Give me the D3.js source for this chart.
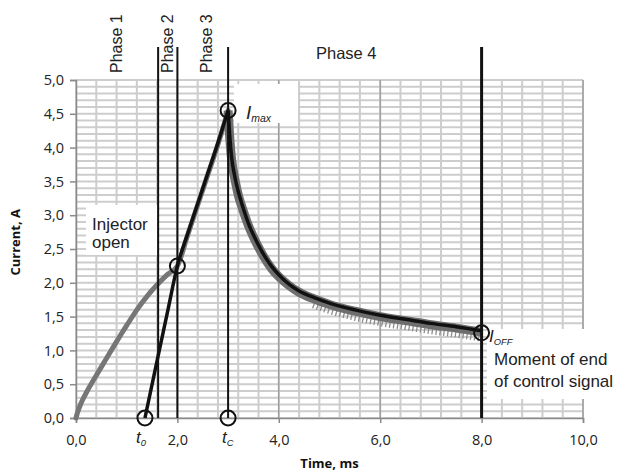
<!DOCTYPE html>
<html><head><meta charset="utf-8">
<script src="https://cdn.jsdelivr.net/npm/d3@7"></script>
<style>body{margin:0;background:#fff}svg{display:block}</style>
</head><body>
<svg id="c" width="623" height="473"></svg>
<script>
// ---- data ----
const xTicks = [0, 2, 4, 6, 8, 10];
const xTickLabels = ["0,0", "2,0", "4,0", "6,0", "8,0", "10,0"];
const yTicks = [0, 0.5, 1, 1.5, 2, 2.5, 3, 3.5, 4, 4.5, 5];
const yTickLabels = ["0,0", "0,5", "1,0", "1,5", "2,0", "2,5", "3,0", "3,5", "4,0", "4,5", "5,0"];
// measured current (gray)
const measuredRiseT = [0, 0.03, 0.1, 0.2, 0.4, 0.6, 0.8, 1.0, 1.2, 1.4, 1.6, 1.8, 2.0, 2.2, 2.4, 2.6, 2.8, 2.95, 3.0];
const measuredRiseI = [0, 0.08, 0.22, 0.37, 0.63, 0.88, 1.13, 1.37, 1.6, 1.8, 1.97, 2.12, 2.25, 2.7, 3.15, 3.6, 4.05, 4.42, 4.55];
const decayT = [3.0, 3.03, 3.07, 3.13, 3.2, 3.3, 3.4, 3.55, 3.7, 3.85, 4.0, 4.2, 4.4, 4.7, 5.0, 5.5, 6.0, 6.5, 7.0, 7.5, 8.0];
const measuredDecayI = [4.55, 4.18, 3.82, 3.55, 3.3, 3.06, 2.85, 2.6, 2.39, 2.22, 2.09, 1.96, 1.86, 1.76, 1.68, 1.58, 1.5, 1.44, 1.38, 1.33, 1.27];
// model current (black)
const modelRiseT = [1.36, 1.6, 1.8, 2.0, 2.2, 2.4, 2.6, 2.8, 3.0];
const modelRiseI = [0, 0.85, 1.55, 2.25, 2.72, 3.17, 3.62, 4.07, 4.55];
const modelDecayI = [4.55, 4.2, 3.85, 3.58, 3.35, 3.1, 2.88, 2.63, 2.42, 2.25, 2.12, 1.98, 1.88, 1.78, 1.70, 1.60, 1.52, 1.46, 1.40, 1.35, 1.29];
// phase boundaries (ms)
const phaseLines = [1.62, 2.0, 3.0, 8.0];
const phaseLabels = ["Phase 1", "Phase 2", "Phase 3"];
const phaseLabelT = [0.91, 1.91, 2.68];
// characteristic points
const markT = [1.36, 2.0, 3.0, 3.0, 8.0];
const markI = [0, 2.25, 4.55, 0, 1.26];

// ---- layout ----
const svg = d3.select("#c");
const x = d3.scaleLinear().domain([0, 10]).range([76, 583]);
const y = d3.scaleLinear().domain([0, 5]).range([418, 80]);
const tickFont = "'Open Sans', sans-serif";
const labFont = "'Liberation Sans', Arial, sans-serif";

// grid
const g = svg.append("g");
g.selectAll(".hg").data(d3.range(0, 51).map(i => i / 10)).join("line")
  .attr("x1", x(0)).attr("x2", x(10)).attr("y1", d => y(d)).attr("y2", d => y(d))
  .attr("stroke", "#cdcdcd").attr("stroke-width", 2);
g.selectAll(".vg").data(d3.range(0, 26).map(i => i * 0.4)).join("line")
  .attr("x1", d => x(d)).attr("x2", d => x(d)).attr("y1", y(0)).attr("y2", y(5))
  .attr("stroke", "#cdcdcd").attr("stroke-width", 2);
g.selectAll(".vm").data(xTicks.slice(1)).join("line")
  .attr("x1", d => x(d)).attr("x2", d => x(d)).attr("y1", y(0)).attr("y2", y(5))
  .attr("stroke", "#8a8a8a").attr("stroke-width", 1);

// axes
const xa = svg.append("g").attr("transform", `translate(0,${y(0)})`)
  .call(d3.axisBottom(x).tickValues(xTicks).tickFormat((d, i) => xTickLabels[i]).tickSize(5).tickPadding(12));
const ya = svg.append("g").attr("transform", `translate(${x(0)},0)`)
  .call(d3.axisLeft(y).tickValues(yTicks).tickFormat((d, i) => yTickLabels[i]).tickSize(6).tickPadding(6));
[xa, ya].forEach(a => {
  a.select(".domain").attr("stroke", "#8a8a8a").attr("stroke-width", 1.5);
  a.selectAll(".tick line").attr("stroke", "#8a8a8a").attr("stroke-width", 1.5);
  a.selectAll("text").attr("font-family", tickFont).attr("font-size", 14.5).attr("fill", "#222");
});

// white label boxes
const boxes = [[86, 205, 71, 50], [234, 84, 64, 39], [487, 329, 136, 70]];
svg.selectAll(".box").data(boxes).join("rect")
  .attr("x", d => d[0]).attr("y", d => d[1]).attr("width", d => d[2]).attr("height", d => d[3])
  .attr("fill", "#fff");

// curves
const line = d3.line().x(d => x(d[0])).y(d => y(d[1])).curve(d3.curveMonotoneX);
const mRise = measuredRiseT.map((t, i) => [t, measuredRiseI[i]]);
const mDecay = decayT.map((t, i) => [t, measuredDecayI[i]]);
const kRise = modelRiseT.map((t, i) => [t, modelRiseI[i]]);
const kDecay = decayT.map((t, i) => [t, modelDecayI[i]]);

svg.append("path").attr("d", line(mRise)).attr("fill", "none")
  .attr("stroke", "#767676").attr("stroke-width", 5).attr("stroke-linecap", "round");
// noisy band of measured decay
svg.append("path").attr("d", line(mDecay.filter(d => d[0] >= 4.6))).attr("fill", "none")
  .attr("transform", "translate(0,3)")
  .attr("stroke", "#8c8c8c").attr("stroke-width", 13).attr("stroke-dasharray", "1.3 2.6");
svg.append("path").attr("d", line(mDecay)).attr("fill", "none")
  .attr("stroke", "#6e6e6e").attr("stroke-width", 9).attr("stroke-linejoin", "round");
svg.append("path").attr("d", line(kRise)).attr("fill", "none")
  .attr("stroke", "#111").attr("stroke-width", 3.5).attr("stroke-linejoin", "round");
svg.append("path").attr("d", line(kDecay)).attr("fill", "none")
  .attr("stroke", "#111").attr("stroke-width", 3.5).attr("stroke-linejoin", "round");

// phase boundary lines
svg.selectAll(".pl").data(phaseLines).join("line")
  .attr("x1", d => x(d)).attr("x2", d => x(d)).attr("y1", 47).attr("y2", y(0))
  .attr("stroke", "#111").attr("stroke-width", (d, i) => i === 3 ? 3 : 2);

// markers
svg.selectAll(".mk").data(markT.map((t, i) => [t, markI[i]])).join("circle")
  .attr("cx", d => x(d[0])).attr("cy", d => y(d[1])).attr("r", 7.5)
  .attr("fill", "none").attr("stroke", "#111").attr("stroke-width", 2);

// phase labels
svg.selectAll(".ph").data(phaseLabels).join("text")
  .attr("transform", (d, i) => `translate(${x(phaseLabelT[i])},73) rotate(-90)`)
  .attr("font-family", labFont).attr("font-size", 16).attr("fill", "#222").text(d => d);
svg.append("text").attr("x", 316).attr("y", 59).attr("font-family", labFont)
  .attr("font-size", 16.5).attr("fill", "#222").text("Phase 4");

// annotations
const ann = svg.append("g").attr("font-family", labFont).attr("fill", "#222");
ann.append("text").attr("x", 92).attr("y", 230).attr("font-size", 17).text("Injector");
ann.append("text").attr("x", 92).attr("y", 248).attr("font-size", 17).text("open");
ann.append("text").attr("x", 494).attr("y", 365).attr("font-size", 17).text("Moment of end");
ann.append("text").attr("x", 494).attr("y", 387).attr("font-size", 17).text("of control signal");
function sub(xp, yp, main, s, size) {
  const t = ann.append("text").attr("x", xp).attr("y", yp).attr("font-style", "italic").attr("font-size", size);
  t.append("tspan").text(main);
  t.append("tspan").attr("font-size", size * 0.55).attr("dy", 3).text(s);
}
sub(246, 119, "I", "max", 19);
sub(489, 342, "I", "OFF", 17);
sub(136, 443, "t", "0", 17);
sub(222, 443, "t", "C", 17);

// axis titles
svg.append("text").attr("x", x(5)).attr("y", 468).attr("text-anchor", "middle")
  .attr("font-family", tickFont).attr("font-weight", "bold").attr("font-size", 13).attr("fill", "#111").text("Time, ms");
svg.append("text").attr("transform", `translate(20,${y(2.6)}) rotate(-90)`).attr("text-anchor", "middle")
  .attr("font-family", tickFont).attr("font-weight", "bold").attr("font-size", 13).attr("fill", "#111").text("Current, A");
</script>
</body></html>
